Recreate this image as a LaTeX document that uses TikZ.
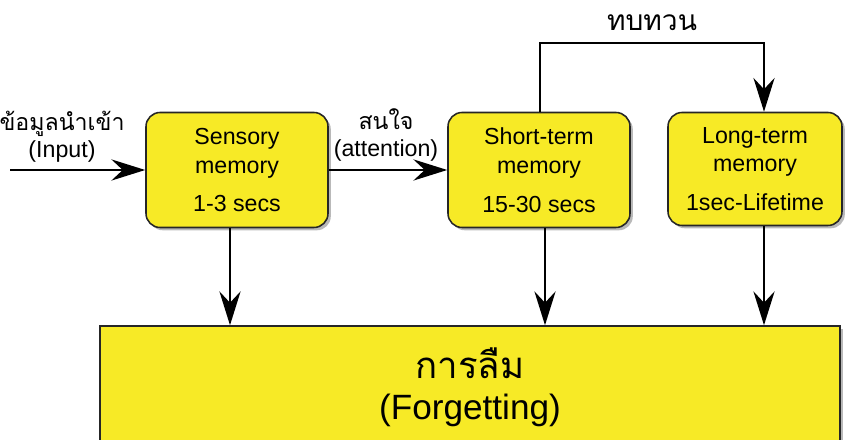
\documentclass[tikz,border=0pt]{standalone}
\usepackage{fontspec}
\setmainfont{Liberation Sans}
\newfontfamily\thaifont[Script=Thai]{Loma}
\usetikzlibrary{arrows.meta,shadows}

\definecolor{memyellow}{RGB}{247,234,38}

\tikzset{
    membox/.style={draw=black!85, line width=1.1pt, fill=memyellow, rounded corners=10pt,
        minimum width=4.55cm, minimum height=2.875cm, align=center,
        font=\fontsize{16.5}{20.5}\selectfont,
        drop shadow={shadow xshift=2pt, shadow yshift=-2pt, opacity=0.55}},
    flow/.style={line width=2pt, -{Stealth[length=24pt,width=15pt,inset=8pt]}},
    lbl/.style={align=center, font=\fontsize{16.5}{19.5}\selectfont}
}

\begin{document}
\begin{tikzpicture}
                    \useasboundingbox (0,0) rectangle (21.2,10.975);
                    \node[membox] (sens) at (5.925,6.725) {Sensory\\memory\\[7pt]1-3 secs};
                    \node[membox] (short) at (13.475,6.725) {Short-term\\memory\\[7pt]15-30 secs};
                    \node[membox, minimum width=4.35cm, minimum height=2.825cm] (long) at (18.875,6.75) {Long-term\\memory\\[7pt]1sec-Lifetime};
                    \node[membox, rounded corners=0pt, minimum width=18.5cm, minimum height=3.075cm,
                        font=\fontsize{25}{29}\selectfont] (forget) at (11.75,1.2875) {{\thaifont\fontsize{26}{29}\selectfont การลืม}\\(Forgetting)};
                    % input and attention
                    \coordinate (in) at (0.25,6.725);
                    \draw[flow] (in) -- (sens.west);
                    \node[lbl] (inlbl) at (1.55,7.55) {{\thaifont ข้อมูลนำเข้า}\\(Input)};
                    \draw[flow] (sens.east) -- (short.west);
                    \node[lbl] (attlbl) at (9.65,7.6) {{\thaifont สนใจ}\\(attention)};
                    % rehearsal loop
                    \coordinate (back) at (19.1,9.9);
                    \draw[flow] ([xshift=0.025cm]short.north) |- (back) -- (back |- long.north);
                    \node[font=\fontsize{20}{22}\thaifont] (rehlbl) at (16.3,10.4) {ทบทวน};
                    % forgetting
                    \draw[flow] ([xshift=-0.175cm]sens.south) -- ([xshift=-0.175cm]sens.south |- forget.north);
                    \draw[flow] ([xshift=0.15cm]short.south) -- ([xshift=0.15cm]short.south |- forget.north);
                    \draw[flow] (back |- long.south) -- (back |- forget.north);
                \end{tikzpicture}
\end{document}
